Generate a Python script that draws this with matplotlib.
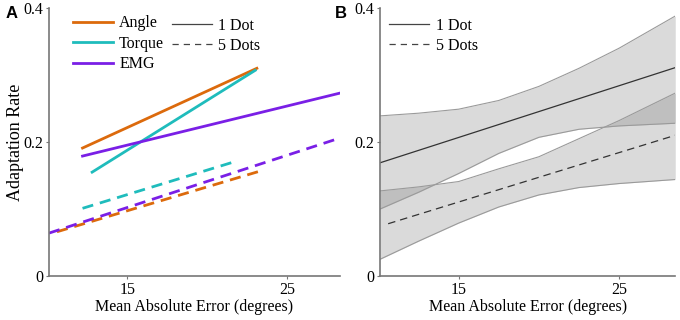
import numpy as np
import matplotlib.pyplot as plt
from matplotlib.lines import Line2D

plt.rcParams['font.family'] = ['Liberation Serif', 'DejaVu Serif']

# panel A: fitted lines (start/end x, start/end y)
angle_1 = ([12.2, 23.1], [0.191, 0.310])
torque_1 = ([12.8, 23.0], [0.155, 0.307])
emg_1 = ([12.2, 28.3], [0.179, 0.273])
angle_5 = ([10.6, 23.5], [0.066, 0.158])
torque_5 = ([12.2, 21.9], [0.101, 0.172])
emg_5 = ([10.1, 28.3], [0.064, 0.206])

# panel B: overall fits with confidence bands
xb = [10.1, 12.5, 15, 17.5, 20, 22.5, 25, 28.5]
dot1_fit = ([10.1, 28.5], [0.169, 0.311])
dot5_fit = ([10.6, 28.5], [0.078, 0.210])
dot1_hi = [0.239, 0.243, 0.249, 0.262, 0.283, 0.310, 0.340, 0.388]
dot1_lo = [0.100, 0.125, 0.153, 0.183, 0.207, 0.219, 0.224, 0.228]
dot5_hi = [0.127, 0.133, 0.141, 0.160, 0.178, 0.205, 0.232, 0.273]
dot5_lo = [0.025, 0.052, 0.079, 0.103, 0.121, 0.132, 0.138, 0.144]

c_angle = '#dc6a0c'
c_torque = '#1fbcbc'
c_emg = '#7a1fe6'

fig = plt.figure(figsize=(6.8, 3.2), dpi=100)
axA = fig.add_axes([0.072, 0.1375, 0.428, 0.8375])
axB = fig.add_axes([0.559, 0.1375, 0.434, 0.8375])

fs = 11.5
lw = 2.0
dash = (0, (4, 2.5))
axA.plot(*angle_1, color=c_angle, lw=lw)
axA.plot(*torque_1, color=c_torque, lw=lw)
axA.plot(*emg_1, color=c_emg, lw=lw)
axA.plot(*angle_5, color=c_angle, lw=lw, ls=dash)
axA.plot(*torque_5, color=c_torque, lw=lw, ls=dash)
axA.plot(*emg_5, color=c_emg, lw=lw, ls=dash)

legkw = dict(loc='upper left', frameon=False, fontsize=fs, handlelength=2.5,
             handletextpad=0.4, labelspacing=0.28, borderaxespad=0)
h1 = [Line2D([], [], color=c, lw=lw) for c in (c_angle, c_torque, c_emg)]
leg1 = axA.legend(h1, ['Angle', 'Torque', 'EMG'], bbox_to_anchor=(0.06, 0.997), **legkw)
axA.add_artist(leg1)
h2 = [Line2D([], [], color='#444444', lw=0.9), Line2D([], [], color='#444444', lw=0.9, ls=(0, (5, 4)))]
axA.legend(h2, ['1 Dot', '5 Dots'], bbox_to_anchor=(0.4, 0.988), **legkw)

axB.fill_between(xb, dot1_lo, dot1_hi, color='#7a7a7a', alpha=0.28, lw=0)
axB.fill_between(xb, dot5_lo, dot5_hi, color='#7a7a7a', alpha=0.28, lw=0)
for s in (dot1_hi, dot1_lo, dot5_hi, dot5_lo):
    axB.plot(xb, s, color='#9a9a9a', lw=0.8)
axB.plot(*dot1_fit, color='#333333', lw=0.9)
axB.plot(*dot5_fit, color='#333333', lw=0.9, ls=(0, (6, 4)))
axB.legend(h2, ['1 Dot', '5 Dots'], bbox_to_anchor=(0.01, 0.988), **legkw)

for ax in (axA, axB):
    ax.set_xlim(10.1, 28.5)
    ax.set_ylim(0, 0.4)
    ax.set_xticks([15, 25])
    ax.set_yticks([0, 0.2, 0.4])
    ax.set_yticklabels(['0', '0.2', '0.4'])
    ax.spines['top'].set_visible(False)
    ax.spines['right'].set_visible(False)
    for sp in ('left', 'bottom'):
        ax.spines[sp].set_color('#777777')
        ax.spines[sp].set_linewidth(1.2)
    ax.tick_params(direction='out', length=2, width=0.8, color='#777777', labelsize=fs, pad=2)
    ax.set_xlabel('Mean Absolute Error (degrees)', fontsize=fs, labelpad=1)

axA.set_xlim(10.1, 28.3)
axA.set_ylabel('Adaptation Rate', fontsize=13, labelpad=0)

fig.text(0.008, 0.945, 'A', fontsize=12, fontweight='bold', family='Liberation Sans')
fig.text(0.492, 0.945, 'B', fontsize=12, fontweight='bold', family='Liberation Sans')

fig.savefig('out.png', dpi=100)
